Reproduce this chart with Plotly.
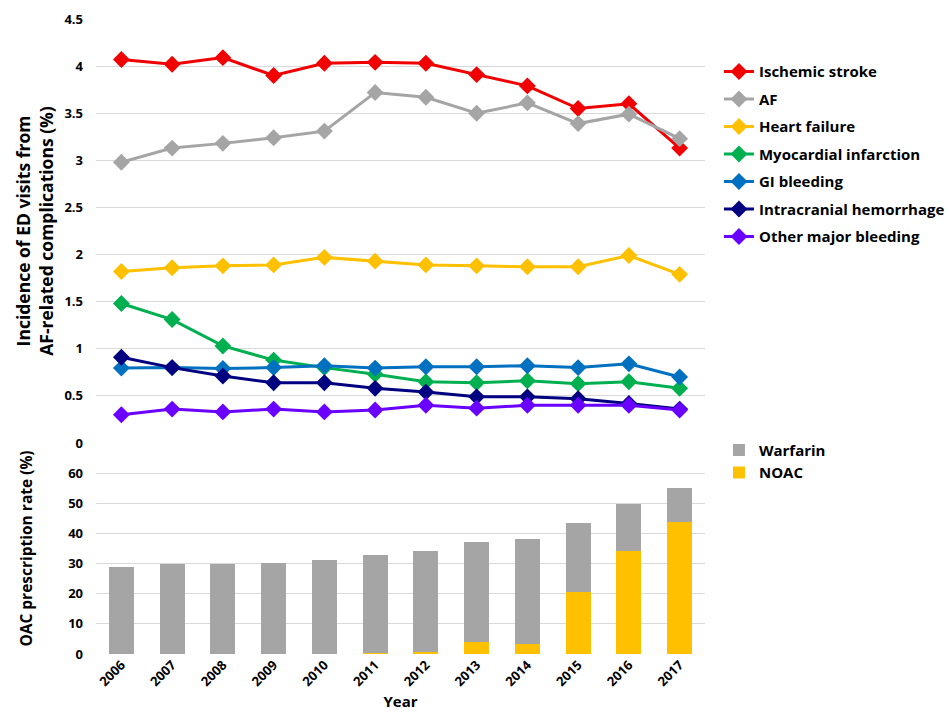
import plotly.graph_objects as go
from plotly.subplots import make_subplots

years = ["2006", "2007", "2008", "2009", "2010", "2011", "2012", "2013", "2014", "2015", "2016", "2017"]

ischemic_stroke = [4.07, 4.02, 4.09, 3.90, 4.03, 4.04, 4.03, 3.91, 3.79, 3.55, 3.60, 3.13]
af = [2.98, 3.13, 3.18, 3.24, 3.31, 3.72, 3.67, 3.50, 3.61, 3.39, 3.49, 3.23]
heart_failure = [1.82, 1.86, 1.88, 1.89, 1.97, 1.93, 1.89, 1.88, 1.87, 1.87, 1.99, 1.79]
myocardial_infarction = [1.48, 1.31, 1.03, 0.88, 0.80, 0.73, 0.65, 0.64, 0.66, 0.63, 0.65, 0.58]
gi_bleeding = [0.795, 0.80, 0.79, 0.80, 0.82, 0.795, 0.81, 0.81, 0.82, 0.80, 0.84, 0.70]
intracranial_hemorrhage = [0.91, 0.80, 0.71, 0.64, 0.64, 0.58, 0.54, 0.49, 0.49, 0.47, 0.42, 0.36]
other_major_bleeding = [0.30, 0.36, 0.33, 0.36, 0.33, 0.35, 0.40, 0.37, 0.40, 0.40, 0.40, 0.35]

oac_total = [29.0, 29.7, 29.9, 30.3, 31.1, 32.9, 34.3, 37.1, 38.0, 43.4, 49.6, 55.0]
noac = [0.0, 0.0, 0.0, 0.0, 0.0, 0.3, 0.6, 3.9, 3.2, 20.7, 34.2, 43.7]
warfarin = [round(t - n, 2) for t, n in zip(oac_total, noac)]

upper_ticks = [0, 0.5, 1, 1.5, 2, 2.5, 3, 3.5, 4, 4.5]
upper_ticklabels = ["0", "0.5", "1", "1.5", "2", "2.5", "3", "3.5", "4", "4.5"]
lower_ticks = [0, 10, 20, 30, 40, 50, 60, 70]
lower_ticklabels = ["0", "10", "20", "30", "40", "50", "60", ""]

series = [
    ("Ischemic stroke", ischemic_stroke, "#f00000"),
    ("AF", af, "#a5a5a5"),
    ("Heart failure", heart_failure, "#ffc000"),
    ("Myocardial infarction", myocardial_infarction, "#00b050"),
    ("GI bleeding", gi_bleeding, "#0070c0"),
    ("Intracranial hemorrhage", intracranial_hemorrhage, "#000080"),
    ("Other major bleeding", other_major_bleeding, "#6a00ff"),
]

FONT = "Open Sans"
lower_frac = (654 - 443) / 635.0

fig = make_subplots(rows=2, cols=1, vertical_spacing=0.0,
                    row_heights=[1 - lower_frac, lower_frac])

for i, (name, vals, col) in enumerate(series):
    fig.add_trace(go.Scatter(
        x=years, y=vals, name=name, mode="lines+markers",
        line=dict(color=col, width=3),
        marker=dict(symbol="diamond", size=13, color=col),
        legend="legend", legendgroup="g%d" % i,
    ), row=1, col=1)

fig.add_trace(go.Bar(x=years, y=noac, name="NOAC", marker=dict(color="#ffc000", line=dict(width=0)),
                     legend="legend2", legendgroup="noac", width=0.49), row=2, col=1)
fig.add_trace(go.Bar(x=years, y=warfarin, name="Warfarin", marker=dict(color="#a5a5a5", line=dict(width=0)),
                     legend="legend2", legendgroup="warf", width=0.49), row=2, col=1)

fig.update_layout(
    barmode="stack",
    width=949, height=713,
    margin=dict(l=96, r=244, t=19, b=59),
    paper_bgcolor="white", plot_bgcolor="white",
    font=dict(family=FONT, size=13, color="#000000", weight="bold"),
    legend=dict(xref="container", x=0.7576, y=0.943, xanchor="left", yanchor="top",
                font=dict(family=FONT, size=15, weight="bold"),
                itemwidth=30, tracegroupgap=5, bgcolor="rgba(0,0,0,0)"),
    legend2=dict(xref="container", x=0.7576, y=0.347, xanchor="left", yanchor="top",
                 font=dict(family=FONT, size=15, weight="bold"),
                 traceorder="reversed", itemwidth=30, tracegroupgap=3, bgcolor="rgba(0,0,0,0)"),
    showlegend=True,
)

fig.update_xaxes(type="category", range=[-0.5, 11.5], showgrid=False, showline=False,
                 zeroline=False, ticks="", automargin=False)
fig.update_xaxes(showticklabels=False, row=1, col=1)
fig.update_xaxes(tickangle=-45, tickfont=dict(family=FONT, size=13, weight="bold"),
                 title=dict(text="Year", font=dict(family=FONT, size=15, weight="bold"), standoff=7),
                 row=2, col=1)

fig.update_yaxes(range=[0, 4.5], tickvals=upper_ticks, ticktext=upper_ticklabels,
                 showgrid=True, gridcolor="#d9d9d9", gridwidth=1, zeroline=False, showline=False,
                 ticklabelstandoff=12, automargin=False,
                 tickfont=dict(family=FONT, size=13, weight="bold"),
                 title=dict(text="Incidence of ED visits from<br>AF-related complications (%)",
                            font=dict(family=FONT, size=17.5, weight="bold"), standoff=6),
                 row=1, col=1)
fig.update_yaxes(range=[0, 70], tickvals=lower_ticks, ticktext=lower_ticklabels,
                 showgrid=True, gridcolor="#d9d9d9", gridwidth=1, zeroline=False, showline=False,
                 ticklabelstandoff=12, automargin=False,
                 tickfont=dict(family=FONT, size=13, weight="bold"),
                 title=dict(text="OAC prescription rate (%)",
                            font=dict(family=FONT, size=15.5, weight="bold"), standoff=31),
                 row=2, col=1)

fig.write_html("out.html", config={"displayModeBar": False},
               post_script="document.body.style.margin='0';")
